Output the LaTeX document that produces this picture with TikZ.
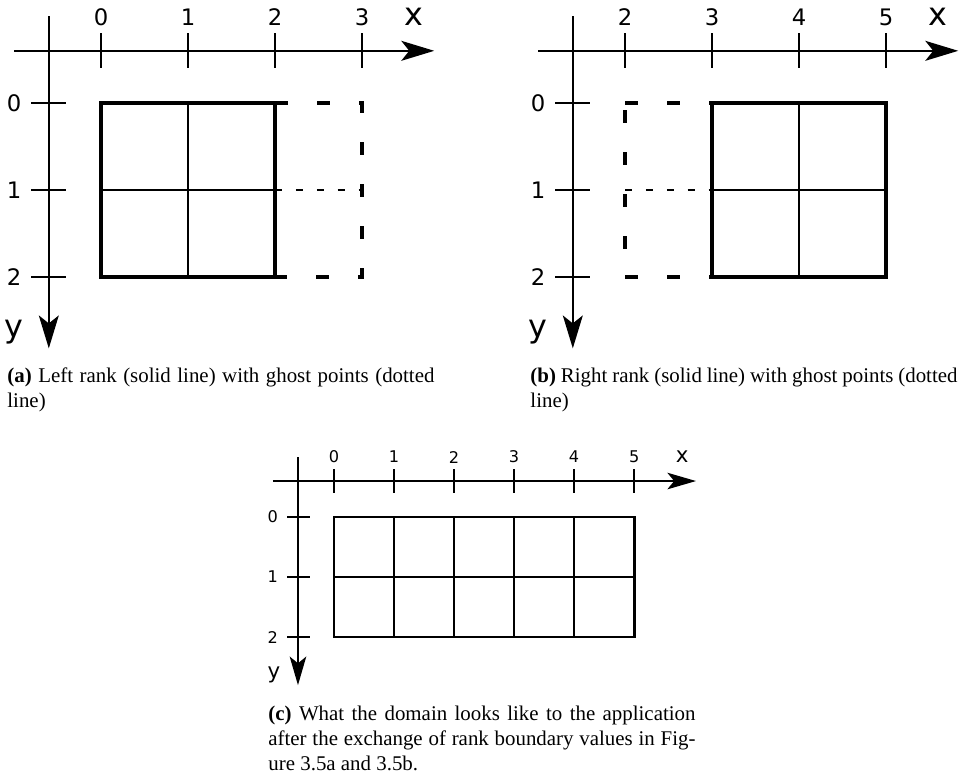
\documentclass[tikz,border=0pt]{standalone}
\usepackage{fontspec}
\setmainfont{Liberation Serif}
\setsansfont{DejaVu Sans}
\usetikzlibrary{arrows.meta,positioning}

\tikzset{
  axisline/.style={line width=0.65pt,-{Stealth[length=14.5pt,width=8.8pt,inset=3.5pt]}},
  axisthin/.style={line width=0.6pt,-{Stealth[length=12.6pt,width=7.3pt,inset=3pt]}},
  tickline/.style={line width=0.65pt},
  ranklines/.style={line width=0.65pt},
  rankbox/.style={line width=1.5pt},
  ghostbox/.style={line width=1.5pt,dash pattern=on 5.7pt off 12.8pt},
  ghostline/.style={line width=0.6pt,dash pattern=on 3.1pt off 6.1pt},
  ticklabel/.style={font=\sffamily\fontsize{10}{12}\selectfont,inner sep=0pt},
  axislabel/.style={font=\sffamily\fontsize{14}{16}\selectfont,inner sep=0pt},
  ticksmall/.style={font=\sffamily\fontsize{7.1}{8.5}\selectfont,inner sep=0pt},
  axissmall/.style={font=\sffamily\fontsize{9.4}{11}\selectfont,inner sep=0pt},
  subcap/.style={font=\fontsize{9.2}{11}\selectfont,text width=188pt,align=justify,
                 inner sep=0pt,anchor=base west}
}

\begin{document}
\begin{tikzpicture}[x=1.346cm,y=-1.346cm]
  \useasboundingbox (0,0) rectangle (11.046,8.908);

  % (a) left rank
  \begin{scope}[shift={(1.161,1.184)}]
    \coordinate (xa0) at (-1,-0.6);
    \coordinate (xa1) at (3.83,-0.6);
    \coordinate (ya0) at (-0.6,-1);
    \coordinate (ya1) at (-0.6,2.82);
    \draw[axisline] (xa0) -- (xa1);
    \draw[axisline] (ya0) -- (ya1);
    \foreach \i in {0,...,3} {
      \draw[tickline] (\i,-0.8) -- (\i,-0.4);
      \node[ticklabel] (xta\i) at (\i,-0.99) {\i};
    }
    \foreach \j in {0,1,2} {
      \draw[tickline] (-0.8,\j) -- (-0.4,\j);
      \node[ticklabel] (yta\j) at (-1,\j) {\j};
    }
    \node[axislabel] (xla) at (3.6,-0.99) {x};
    \node[axislabel] (yla) at (-1,2.63) {y};
    \draw[ranklines] (1,0) -- (1,2) (0,1) -- (2,1);
    \draw[rankbox] (0,0) rectangle (2,2);
    \draw[ghostbox] (2,0) -- (3,0) -- (3,2) -- (2,2);
    \draw[ghostline] (2,1) -- (3,1);
  \end{scope}

  % (b) right rank
  \begin{scope}[shift={(7.184,1.184)}]
    \coordinate (xb0) at (-1,-0.6);
    \coordinate (xb1) at (3.83,-0.6);
    \coordinate (yb0) at (-0.6,-1);
    \coordinate (yb1) at (-0.6,2.82);
    \draw[axisline] (xb0) -- (xb1);
    \draw[axisline] (yb0) -- (yb1);
    \foreach \i/\t in {0/2,1/3,2/4,3/5} {
      \draw[tickline] (\i,-0.8) -- (\i,-0.4);
      \node[ticklabel] (xtb\t) at (\i,-0.99) {\t};
    }
    \foreach \j in {0,1,2} {
      \draw[tickline] (-0.8,\j) -- (-0.4,\j);
      \node[ticklabel] (ytb\j) at (-1,\j) {\j};
    }
    \node[axislabel] (xlb) at (3.6,-0.99) {x};
    \node[axislabel] (ylb) at (-1,2.63) {y};
    \draw[ranklines] (2,0) -- (2,2) (1,1) -- (3,1);
    \draw[rankbox] (1,0) rectangle (3,2);
    \draw[ghostbox] (0,0) -- (1,0);
    \draw[ghostbox] (0,2) -- (1,2);
    \draw[ghostbox,dash phase=15.4pt] (0,0) -- (0,2);
    \draw[ghostline] (0,1) -- (1,1);
  \end{scope}

  % (c) whole domain
  \begin{scope}[shift={(3.839,5.943)},scale=0.69]
    \coordinate (xc0) at (-1.02,-0.6);
    \coordinate (xc1) at (6.03,-0.6);
    \coordinate (yc0) at (-0.6,-1);
    \coordinate (yc1) at (-0.6,2.8);
    \draw[axisthin] (xc0) -- (xc1);
    \draw[axisthin] (yc0) -- (yc1);
    \foreach \i in {0,...,5} {
      \draw[tickline] (\i,-0.8) -- (\i,-0.4);
      \node[ticksmall] (xtc\i) at (\i,-1) {\i};
    }
    \foreach \j in {0,1,2} {
      \draw[tickline] (-0.78,\j) -- (-0.4,\j);
      \node[ticksmall] (ytc\j) at (-1.02,\j) {\j};
    }
    \node[axissmall] (xlc) at (5.8,-1) {x};
    \node[axissmall] (ylc) at (-1,2.63) {y};
    \foreach \i in {1,...,4}
      \draw[ranklines] (\i,0) -- (\i,2);
    \draw[ranklines] (0,1) -- (5,1);
    \draw[rankbox,line width=1.2pt] (0,0) rectangle (5,2);
  \end{scope}

  % captions
  \node[subcap] (capa) at (0.080,4.391)
    {\textbf{(a)} Left rank (solid line) with ghost points (dotted line)};
  \node[subcap] (capb) at (6.092,4.391)
    {\textbf{(b)} Right rank (solid line) with ghost points (dotted line)};
  \node[subcap] (capc) at (3.080,8.276)
    {\textbf{(c)} What the domain looks like to the application after the exchange of rank boundary values in Fig-\linebreak ure 3.5a and 3.5b.};
\end{tikzpicture}
\end{document}
